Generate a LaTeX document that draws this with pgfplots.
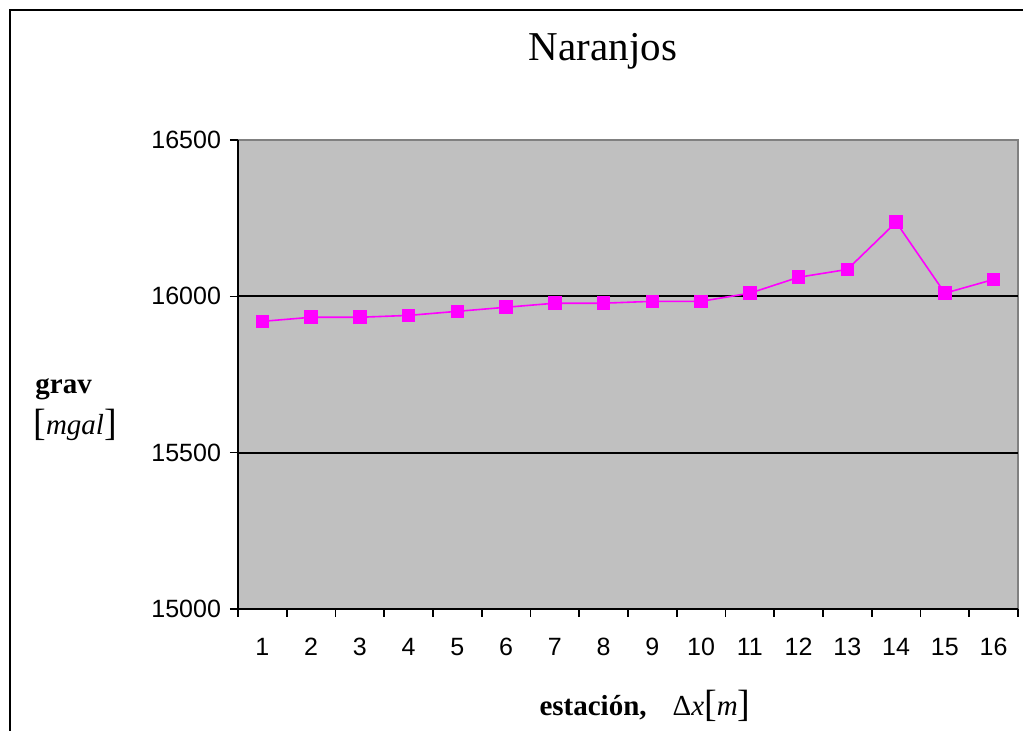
\documentclass[border=0pt]{standalone}
\usepackage{fontspec}
\setmainfont{Liberation Serif}
\newfontfamily\arial{Liberation Sans}
\usepackage{pgfplots}
\pgfplotsset{compat=1.18}
\definecolor{plotgray}{RGB}{192,192,192}
\definecolor{edgegray}{RGB}{128,128,128}
\definecolor{magenta2}{RGB}{255,0,255}
\newcommand{\bigbr}[1]{{\fontsize{19}{20}\selectfont\raisebox{-0.5pt}{#1}}}

\begin{document}
\begin{tikzpicture}
\useasboundingbox (-119pt,-61pt) rectangle (392.5pt,304.5pt);
\fill[white] (-119pt,-61pt) rectangle (392.5pt,304.5pt);
\draw[black, line width=1.2pt] (-114pt,-62pt) -- (-114pt,299.5pt) -- (393pt,299.5pt);
\begin{axis}[
    at={(0pt,0pt)}, anchor=south west,
    scale only axis, width=390pt, height=234.5pt,
    xmin=0.5, xmax=16.5, ymin=15000, ymax=16500,
    axis x line=bottom, axis y line=left,
    axis line style={-, black, line width=1pt},
    axis background/.style={fill=plotgray, draw=edgegray, line width=1.2pt},
    xtick={1,...,16},
    minor xtick={0.5,1.5,...,16.5},
    major x tick style={draw=none},
    minor x tick style={black, line width=0.8pt},
    minor tick length=4pt,
    ytick={15000,15500,16000,16500},
    major y tick style={black, line width=0.8pt},
    major tick length=4pt,
    tick align=outside,
    extra y ticks={15500,16000},
    extra y tick labels={},
    extra y tick style={ymajorgrids=true, major y tick style={draw=none}},
    grid style={black, line width=1pt},
    scaled y ticks=false,
    /pgf/number format/1000 sep={},
    /pgf/number format/assume math mode=true,
    tick label style={font=\arial\fontsize{12.5}{14}\selectfont},
    xticklabel style={yshift=-7pt},
    yticklabel style={xshift=-1pt},
    clip=false,
]
\addplot[magenta2, line width=0.8pt, mark=square*, mark size=3pt,
         mark options={solid, fill=magenta2, draw=magenta2}]
    coordinates {
        (1,15920) (2,15933) (3,15933) (4,15939) (5,15952) (6,15965)
        (7,15978) (8,15978) (9,15984) (10,15984) (11,16010) (12,16061)
        (13,16086) (14,16237) (15,16010) (16,16054)
    };
\end{axis}
\node[font=\fontsize{20.5}{24}\selectfont] at (182.5pt,279pt) {Naranjos};
\node[anchor=west, inner sep=0pt, font=\fontsize{14.5}{17}\selectfont\bfseries] at (-101.5pt,110pt) {grav};
\node[anchor=west, inner sep=0pt, font=\fontsize{14.5}{17}\selectfont] at (-102.5pt,92pt) {\bigbr{[}\textit{mgal}\bigbr{]}};
\node[font=\fontsize{14.5}{17}\selectfont] at (203.5pt,-48.5pt)
    {\textbf{estación,}\hspace{0.9em}Δ\textit{x}\bigbr{[}\textit{m}\bigbr{]}};
\end{tikzpicture}
\end{document}
